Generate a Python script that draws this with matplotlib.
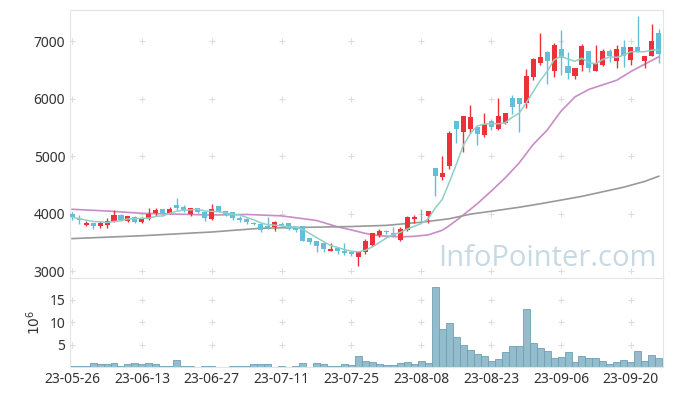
import numpy as np
import pandas as pd
import matplotlib
matplotlib.use("Agg")
import matplotlib.pyplot as plt

plt.rcParams["font.family"] = ["Noto Sans", "DejaVu Sans"]

# tick labels (one every 10 trading days)
tick_labels = ['23-05-26', '23-06-13', '23-06-27', '23-07-11', '23-07-25',
               '23-08-08', '23-08-23', '23-09-06', '23-09-20']

# daily OHLC
open_ = [3990, 3900, 3805, 3835, 3790, 3810, 3860, 3975, 3875, 3935,
         3860, 3900, 4015, 4075, 4015, 4148, 4113, 3990, 4090, 4020,
         3900, 4125, 4045, 4020, 3925, 3905, 3830, 3815, 3785, 3775,
         3815, 3830, 3760, 3785, 3570, 3520, 3490, 3355, 3405, 3355,
         3335, 3250, 3335, 3450, 3620, 3690, 3670, 3540, 3713, 3900,
         3925, 3955, 4785, 4630, 4825, 5615, 5425, 5475, 5510, 5365,
         5610, 5470, 5580, 6005, 6005, 5915, 6370, 6610, 6815, 6485,
         6855, 6565, 6395, 6585, 6825, 6485, 6585, 6825, 6655, 6900,
         6670, 6900, 6650, 6740, 7135]
close = [3935, 3890, 3835, 3790, 3840, 3875, 3975, 3895, 3950, 3860,
         3910, 3985, 4060, 3985, 4085, 4100, 4065, 4095, 4030, 3930,
         4080, 4030, 3975, 3915, 3885, 3860, 3825, 3715, 3745, 3850,
         3805, 3730, 3715, 3530, 3500, 3440, 3380, 3380, 3355, 3320,
         3290, 3325, 3520, 3655, 3695, 3680, 3615, 3725, 3945, 3935,
         3915, 4045, 4650, 4700, 5400, 5470, 5695, 5675, 5380, 5555,
         5510, 5695, 5755, 5860, 5905, 6390, 6680, 6715, 6650, 6930,
         6700, 6440, 6525, 6915, 6535, 6610, 6825, 6740, 6870, 6740,
         6900, 6825, 6740, 7005, 6775]
high = [4030, 3975, 3870, 3840, 3870, 3920, 4060, 3990, 3965, 3950,
        3935, 4095, 4100, 4075, 4120, 4275, 4150, 4100, 4100, 4030,
        4160, 4130, 4050, 4030, 3960, 3915, 3850, 3830, 3940, 3875,
        3860, 3835, 3790, 3785, 3575, 3530, 3495, 3485, 3410, 3480,
        3340, 3330, 3565, 3665, 3740, 3720, 3770, 3770, 3950, 3975,
        4075, 4045, 4785, 5000, 5430, 5615, 5695, 5890, 5510, 5745,
        5650, 6005, 5755, 6070, 6005, 6510, 6700, 7135, 6830, 6960,
        7200, 6815, 6525, 6950, 6825, 6930, 6870, 6870, 6930, 7015,
        6900, 7435, 6740, 7295, 7205]
low = [3890, 3820, 3790, 3730, 3750, 3755, 3850, 3870, 3860, 3830,
       3830, 3885, 3965, 3965, 4000, 4065, 4030, 3960, 4010, 3870,
       3890, 4020, 3950, 3880, 3850, 3820, 3800, 3675, 3740, 3700,
       3770, 3715, 3685, 3520, 3465, 3335, 3335, 3355, 3295, 3280,
       3265, 3090, 3300, 3430, 3590, 3650, 3595, 3530, 3690, 3830,
       3875, 3830, 4300, 4590, 4780, 5220, 5070, 5395, 5190, 5335,
       5450, 5450, 5560, 5740, 5425, 5830, 6320, 6580, 6250, 6380,
       6410, 6335, 6335, 6480, 6465, 6485, 6565, 6640, 6530, 6555,
       6590, 6815, 6525, 6740, 6610]

# volume, millions of shares
volume = [0.3, 0.3, 0.3, 0.8, 0.6, 0.6, 0.8, 0.3, 0.6, 0.8,
          0.6, 0.8, 0.6, 0.2, 0.3, 1.5, 0.3, 0.15, 0.05, 0.3,
          0.3, 0.1, 0.1, 0.3, 0.3, 0.3, 0.6, 0.6, 0.6, 0.1,
          0.3, 0.1, 0.3, 1.0, 0.1, 1.0, 0.6, 0.3, 0.3, 0.6,
          0.35, 2.4, 1.35, 1.05, 0.6, 0.35, 0.35, 0.8, 1.05, 0.6,
          1.35, 0.9, 17.9, 8.4, 9.7, 6.6, 5.0, 3.7, 3.0, 2.4,
          1.25, 1.7, 3.25, 4.75, 4.75, 13.0, 5.25, 4.15, 3.55, 1.9,
          2.15, 3.25, 1.1, 2.4, 1.9, 1.9, 1.25, 0.6, 1.1, 1.55,
          1.1, 3.5, 1.35, 2.6, 1.9]

# 20-day and 60-day moving averages (they need history before the window)
ma20_idx = [0, 5, 10, 15, 20, 25, 30, 35, 38, 40, 42, 44, 47, 49, 51, 53, 54, 55,
            56, 58, 60, 62, 64, 66, 68, 70, 72, 74, 76, 78, 80, 82, 84]
ma20 = [4075, 4045, 4005, 3990, 3975, 3985, 3960, 3880, 3770, 3715, 3655, 3615,
        3595, 3605, 3630, 3710, 3790, 3880, 3975, 4170, 4390, 4620, 4880, 5200,
        5450, 5780, 6030, 6160, 6240, 6320, 6470, 6600, 6725]
ma60_idx = [0, 10, 20, 27, 33, 40, 45, 50, 54, 57, 60, 64, 67, 70, 73, 76, 79, 82, 84]
ma60 = [3565, 3615, 3680, 3745, 3760, 3775, 3795, 3850, 3910, 3990, 4040, 4110,
        4170, 4235, 4300, 4380, 4460, 4560, 4650]

df = pd.DataFrame({"open": open_, "close": close, "high": high, "low": low, "vol": volume})
df["ma5"] = df["close"].rolling(5, min_periods=1).mean()
x = np.arange(len(df))
up = df["close"] >= df["open"]
colors = np.where(up, "#ec3238", "#63bfd9")

fig = plt.figure(figsize=(6.73, 3.96), dpi=100)
ax = fig.add_axes([70 / 673, 118 / 396, 593 / 673, 268 / 396])
axv = fig.add_axes([70 / 673, 29 / 396, 593 / 673, 89 / 396], sharex=ax)

frame = "#e4e4e4"
for a in (ax, axv):
    for s in a.spines.values():
        s.set_color(frame)
    a.tick_params(length=0, labelsize=10, colors="#333333")

# candles
ax.vlines(x, df["low"], df["high"], colors=colors, linewidth=1, zorder=2)
body_h = np.maximum((df["close"] - df["open"]).abs(), 12)
ax.bar(x, body_h, bottom=np.minimum(df["open"], df["close"]), width=0.72,
       color=colors, linewidth=0, zorder=3)

# moving averages
ax.plot(x, df["ma5"], color="#8fd0c4", linewidth=1.1, zorder=4)
ax.plot(ma20_idx, ma20, color="#c98cc8", linewidth=1.2, zorder=1)
ax.plot(ma60_idx, ma60, color="#999999", linewidth=1.2, zorder=1)

ax.set_xlim(-0.3, 84.6)
ax.set_ylim(2880, 7540)
ax.set_yticks([3000, 4000, 5000, 6000, 7000])
ax.tick_params(labelbottom=False)

ticks = np.arange(0, 90, 10)[:len(tick_labels)]
gx, gy = np.meshgrid(ticks, [3000, 4000, 5000, 6000, 7000])
ax.scatter(gx.ravel(), gy.ravel(), marker="+", s=18, color="#dddddd", linewidths=0.8, zorder=0)

ax.text(0.99, 0.02, "InfoPointer.com", transform=ax.transAxes, ha="right", va="bottom",
        fontsize=21, color="#c6d9e4", family=["Open Sans", "DejaVu Sans"], zorder=0)

# volume
axv.bar(x, df["vol"], width=1.0, color="#93bccd", edgecolor="#6f9fb5", linewidth=0.6)
axv.set_ylim(0, 19.8)
axv.set_yticks([5, 10, 15])
axv.set_xticks(ticks)
axv.set_xticklabels(tick_labels)
axv.set_ylabel("$10^6$", fontsize=10, color="#333333", labelpad=4)
vx, vy = np.meshgrid(ticks, [5, 10, 15])
axv.scatter(vx.ravel(), vy.ravel(), marker="+", s=18, color="#dddddd", linewidths=0.8, zorder=0)

fig.savefig("out.png", dpi=100)
